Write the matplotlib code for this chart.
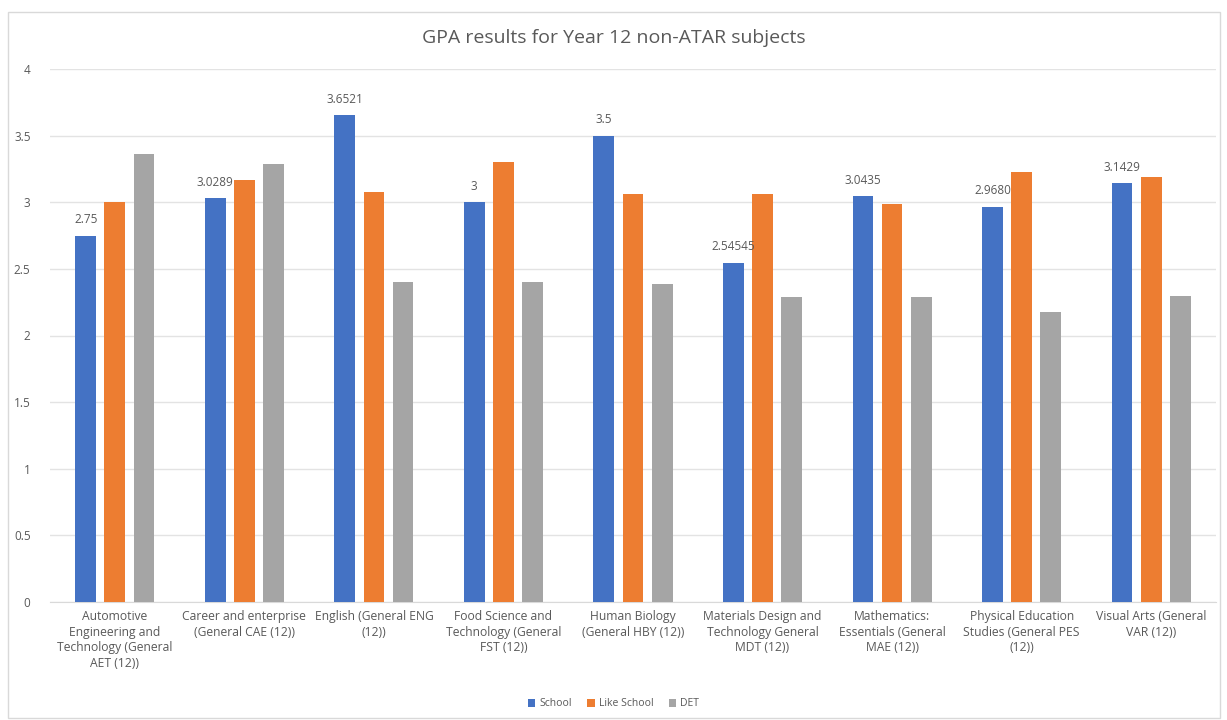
import matplotlib
matplotlib.use("Agg")
import matplotlib.pyplot as plt
import numpy as np
from matplotlib.patches import Rectangle

categories = [
    "Automotive\nEngineering and\nTechnology (General\nAET (12))",
    "Career and enterprise\n(General CAE (12))",
    "English (General ENG\n(12))",
    "Food Science and\nTechnology (General\nFST (12))",
    "Human Biology\n(General HBY (12))",
    "Materials Design and\nTechnology General\nMDT (12))",
    "Mathematics:\nEssentials (General\nMAE (12))",
    "Physical Education\nStudies (General PES\n(12))",
    "Visual Arts (General\nVAR (12))",
]
school = [2.75, 3.0289, 3.6521, 3.0, 3.5, 2.54545, 3.0435, 2.968, 3.1429]
school_labels = ["2.75", "3.0289", "3.6521", "3", "3.5", "2.54545", "3.0435", "2.9680", "3.1429"]
like_school = [3.0, 3.17, 3.08, 3.30, 3.06, 3.06, 2.985, 3.225, 3.19]
det = [3.36, 3.29, 2.40, 2.40, 2.39, 2.29, 2.29, 2.18, 2.30]
series_names = ["School", "Like School", "DET"]
yticks = [0, 0.5, 1, 1.5, 2, 2.5, 3, 3.5, 4]
ytick_labels = ["0", "0.5", "1", "1.5", "2", "2.5", "3", "3.5", "4"]

colors = ["#4472C4", "#ED7D31", "#A5A5A5"]
text_color = "#595959"
font = ["Open Sans", "DejaVu Sans"]

fig = plt.figure(figsize=(12.27, 7.2), dpi=100)
fig.patch.set_facecolor("white")
fig.patches.append(Rectangle((8 / 1227, 2 / 720), 1212 / 1227, 706 / 720,
                             transform=fig.transFigure, fill=False,
                             edgecolor="#D9D9D9", linewidth=1.0))

ax = fig.add_axes([50 / 1227, 118 / 720, 1166 / 1227, 533 / 720])
x = np.arange(len(categories))
w = 0.16
off = 0.225
bars = []
for i, (vals, name) in enumerate(zip([school, like_school, det], series_names)):
    b = ax.bar(x + (i - 1) * off, vals, width=w, color=colors[i], label=name, zorder=3)
    bars.append(b)

for rect, lab in zip(bars[0], school_labels):
    ax.text(rect.get_x() + rect.get_width() / 2, rect.get_height() + 0.07, lab,
            ha="center", va="bottom", fontsize=8.5, color=text_color, family=font)

ax.set_xlim(-0.5, len(categories) - 0.5)
ax.set_ylim(0, 4)
ax.set_yticks(yticks)
ax.set_yticklabels(ytick_labels, fontsize=8.5, color=text_color, family=font)
ax.set_xticks(x)
ax.set_xticklabels(categories, fontsize=8.7, color=text_color, family=font, linespacing=1.25)
ax.tick_params(axis="both", length=0)
ax.tick_params(axis="y", pad=14)
ax.tick_params(axis="x", pad=6)
ax.grid(axis="y", color="#E3E3E3", linewidth=1.0, zorder=0)
for s in ["top", "right", "left"]:
    ax.spines[s].set_visible(False)
ax.spines["bottom"].set_color("#D9D9D9")

fig.text(0.5, 1 - 38 / 720, "GPA results for Year 12 non-ATAR subjects", ha="center",
         va="center", fontsize=14, color=text_color, family=font)

leg = fig.legend(handles=bars, labels=series_names, loc="center",
                 bbox_to_anchor=(0.5, 1 - 704 / 720), ncol=3, frameon=False,
                 handlelength=0.7, handleheight=0.7, handletextpad=0.4,
                 columnspacing=1.5, prop={"family": font, "size": 7.5})
for t in leg.get_texts():
    t.set_color(text_color)

fig.savefig("out.png", dpi=100, facecolor="white")
